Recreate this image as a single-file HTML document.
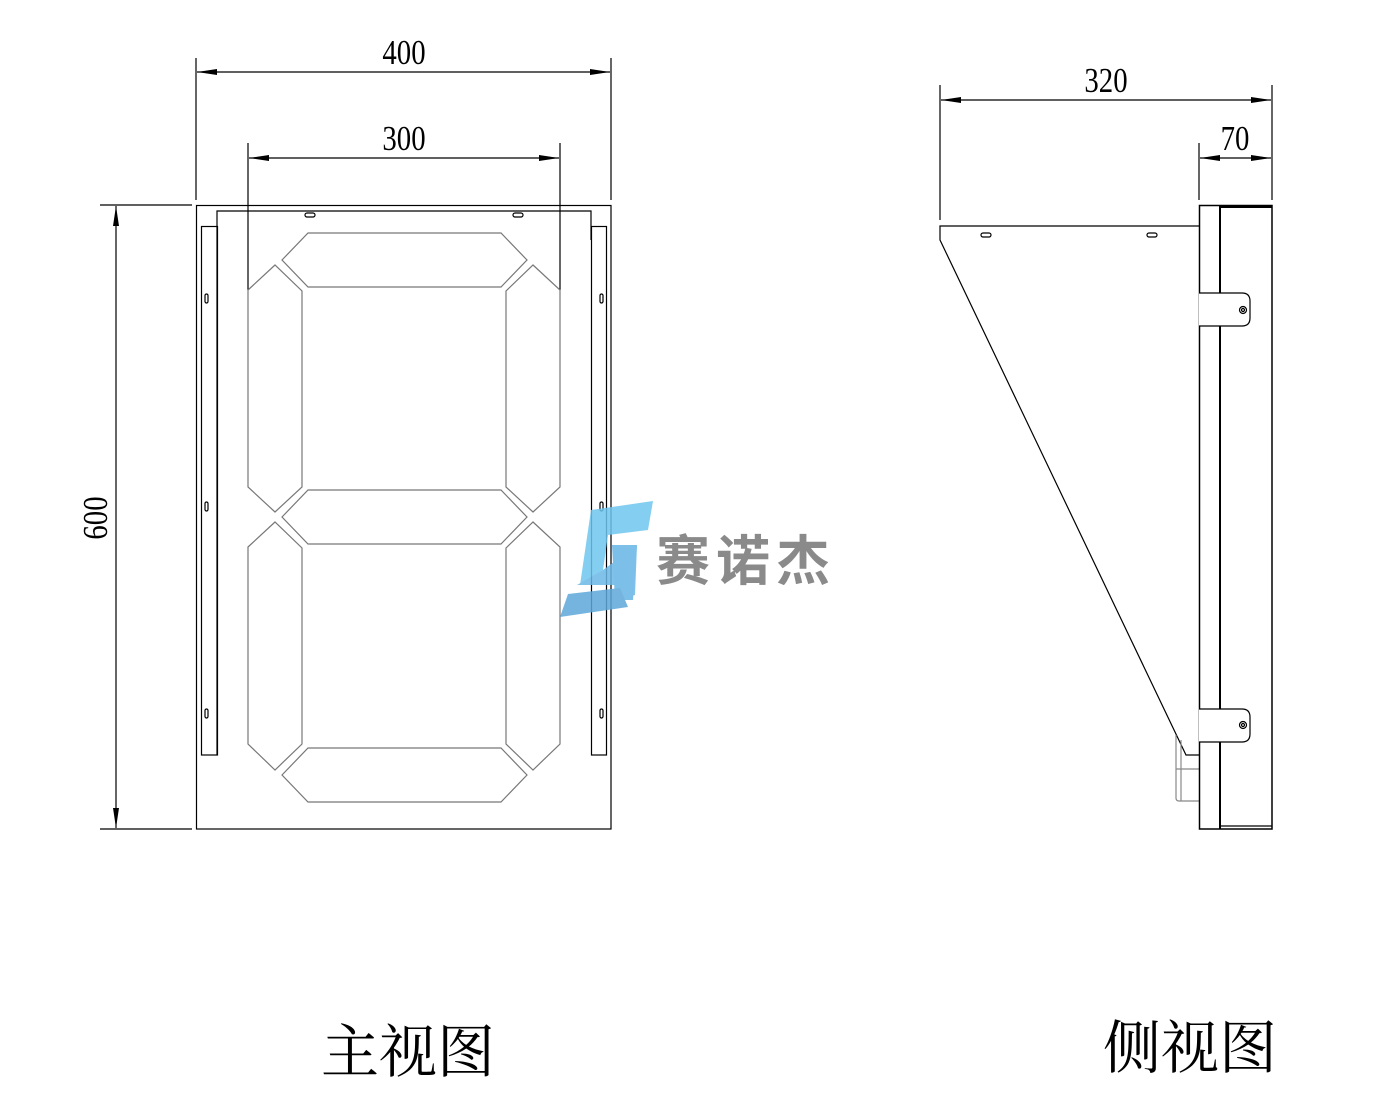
<!DOCTYPE html>
<html><head><meta charset="utf-8"><style>body{margin:0;background:#fff}svg{display:block}</style></head><body>
<svg width="1393" height="1110" viewBox="0 0 1393 1110" xmlns="http://www.w3.org/2000/svg">
<defs><marker id="a" viewBox="0 0 20 6" refX="20" refY="3" markerWidth="20" markerHeight="6" orient="auto-start-reverse" markerUnits="userSpaceOnUse"><path d="M0,0 L20,3 L0,6 Z" fill="#000"/></marker></defs>
<g stroke="#000" stroke-width="1.2" fill="none">
<line x1="196" y1="58" x2="196" y2="200"/><line x1="611" y1="58" x2="611" y2="200"/>
<line x1="197" y1="72" x2="610" y2="72" marker-start="url(#a)" marker-end="url(#a)"/>
<line x1="248" y1="143" x2="248" y2="290"/><line x1="560" y1="143" x2="560" y2="290"/>
<line x1="249" y1="158" x2="559" y2="158" marker-start="url(#a)" marker-end="url(#a)"/>
<line x1="100" y1="205" x2="192" y2="205"/><line x1="100" y1="829" x2="192" y2="829"/>
<line x1="116" y1="206" x2="116" y2="828" marker-start="url(#a)" marker-end="url(#a)"/>
<rect x="196.5" y="205.5" width="414.5" height="623.5"/>
<polyline points="217,755 217,211 591,211 591,240"/>
<rect x="201.5" y="226.5" width="16" height="528.5"/>
<rect x="591.5" y="226.5" width="15" height="528.5"/>
<rect x="305" y="213" width="10" height="4" rx="2"/><rect x="513" y="213" width="10" height="4" rx="2"/>
<rect x="205" y="294" width="3" height="9" rx="1.5"/><rect x="205" y="502" width="3" height="9" rx="1.5"/><rect x="205" y="709" width="3" height="9" rx="1.5"/>
<rect x="600" y="294" width="3" height="9" rx="1.5"/><rect x="600" y="502" width="3" height="9" rx="1.5"/><rect x="600" y="709" width="3" height="9" rx="1.5"/>
</g>
<g stroke="#777" stroke-width="1.2" fill="none">
<polygon points="282,260 308,233 501,233 527,260 501,287 308,287"/>
<polygon points="248,290 275,265 302,291 302,487 275,512 248,487"/>
<polygon points="506,291 533,265 560,290 560,487 533,512 506,487"/>
<polygon points="282,517 308,490 501,490 527,517 501,544 308,544"/>
<polygon points="248,547 275,522 302,548 302,744 275,770 248,744"/>
<polygon points="506,548 533,522 560,547 560,744 533,770 506,744"/>
<polygon points="282,775 308,748 501,748 527,775 501,802 308,802"/>
</g>
<g stroke="#000" stroke-width="1.2" fill="none">
<line x1="940" y1="85" x2="940" y2="220"/><line x1="1272" y1="85" x2="1272" y2="200"/>
<line x1="941" y1="100" x2="1271" y2="100" marker-start="url(#a)" marker-end="url(#a)"/>
<line x1="1199" y1="143" x2="1199" y2="200"/>
<line x1="1200" y1="158" x2="1271" y2="158" marker-start="url(#a)" marker-end="url(#a)"/>
<polyline points="1199,226 940,226 940,240 1186,755 1199,755"/>
<rect x="981" y="233" width="10" height="4" rx="2"/><rect x="1147" y="233" width="10" height="4" rx="2"/>
<path d="M1176,735 L1176,798 Q1176,801 1179,801 L1199,801 M1176,769 L1199,769 M1181,740 L1181,801" stroke="#888"/>
<rect x="1199.5" y="205.5" width="72.5" height="623.5" stroke-width="1.5"/>
<line x1="1220" y1="206" x2="1220" y2="829" stroke-width="2"/>
<line x1="1220" y1="207" x2="1272" y2="207" stroke-width="2"/>
<line x1="1220" y1="826" x2="1272" y2="826"/>
<path d="M1199,293 L1242,293 Q1250,293 1250,301 L1250,318 Q1250,326 1242,326 L1199,326" fill="#fff"/>
<circle cx="1243" cy="310" r="3.5"/><circle cx="1243" cy="310" r="1.5"/>
<path d="M1199,709 L1242,709 Q1250,709 1250,717 L1250,734 Q1250,742 1242,742 L1199,742" fill="#fff"/>
<circle cx="1243" cy="725" r="3.5"/><circle cx="1243" cy="725" r="1.5"/>
</g>
<g opacity="0.85">
<polygon points="591,510 653,501 648,530 608,535 603,570 580,585" fill="#6fc6ef"/>
<polygon points="577,585 603,570 637,545 635,595 615,600 617,585" fill="#6ab8e6"/>
<polygon points="612,545 637,545 633,600 615,600" fill="#66b4e4"/>
<polygon points="568,594 620,588 628,607 560,617" fill="#5ea8da"/>
</g>
<text x="656" y="580" font-family="'Liberation Sans','Noto Sans CJK SC',sans-serif" font-size="54" font-weight="bold" fill="#8a8a8a" letter-spacing="6">赛诺杰</text>
<g font-family="'Liberation Serif','Noto Serif CJK SC',serif" fill="#000">
<text transform="translate(404,64) scale(0.9,1.1)" font-size="32" text-anchor="middle">400</text>
<text transform="translate(404,150) scale(0.9,1.1)" font-size="32" text-anchor="middle">300</text>
<text transform="translate(107,518) rotate(-90) scale(0.9,1.1)" font-size="32" text-anchor="middle">600</text>
<text transform="translate(1106,92) scale(0.9,1.1)" font-size="32" text-anchor="middle">320</text>
<text transform="translate(1235,150) scale(0.9,1.1)" font-size="32" text-anchor="middle">70</text>
<text x="408" y="1072" font-size="58" text-anchor="middle">主视图</text>
<text x="1190" y="1068" font-size="58" text-anchor="middle">侧视图</text>
</g>
</svg>
</body></html>
